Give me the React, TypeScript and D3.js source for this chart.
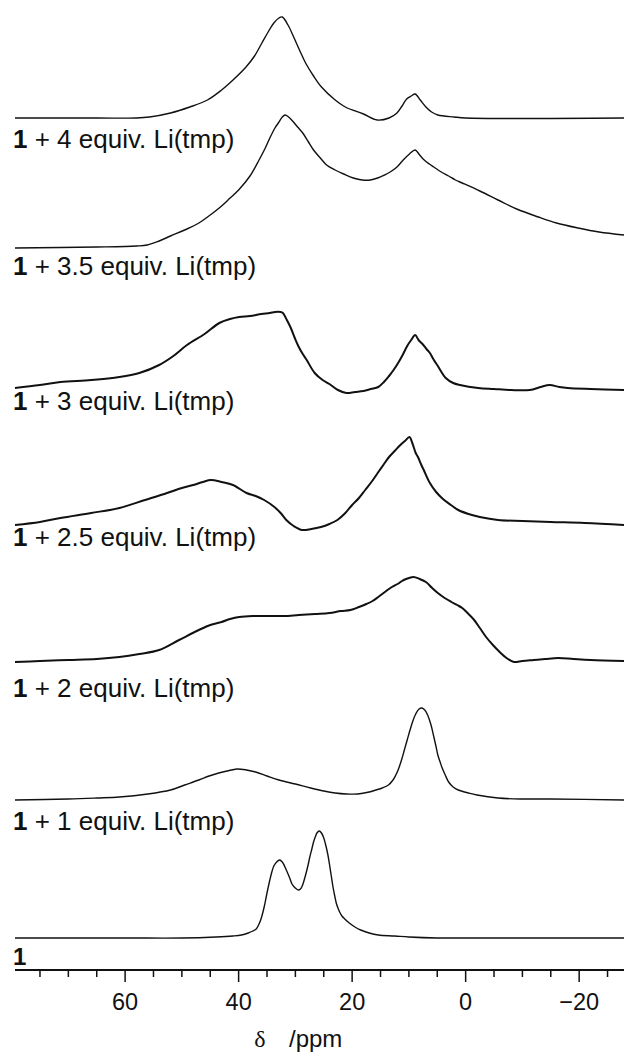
import React from "react";
import * as d3 from "d3";

// ---- data (ppm, intensity in arbitrary units) ----
const labels = ["4", "3.5", "3", "2.5", "2", "1", ""];
const stackOffsets = [820, 690, 550, 413, 276, 138, 0];

const spec4: [number, number][] = [[79.4,0],[65,0],[58,0],[55.7,1],[52,5],[48.6,11],[45.5,18],[43,28],[40.8,39],[38.7,51],[37.2,62],[35.9,75],[34.8,86],[33.8,95],[32.9,100],[32.3,101],[31.3,93],[30.3,81],[29.2,67],[28.2,55],[26.8,42],[25.4,31],[23.2,19],[21.2,11],[18,4],[15.6,-2],[13.5,0],[12.1,5],[11.2,12],[10.4,19],[9.6,22],[8.9,24],[8,18],[7,11],[6,6],[4.9,3],[2,1],[0,0],[-27.9,0]];
const spec35: [number, number][] = [[79.4,0],[65,1],[58,2],[56.1,3],[54,7],[52,12],[49.5,18],[47,25],[45,33],[43,42],[41.5,50],[40,58],[38,72],[36.4,88],[35.3,100],[34.5,110],[33.6,120],[33,125],[32.3,131],[31.8,133],[31.2,131],[30.5,127],[29.6,121],[28.7,115],[27.7,106],[26.8,98],[25.6,90],[24.5,83],[23,78],[21.5,74],[19.8,70],[18.2,68],[16.8,68],[15.5,70],[14.3,73],[13.3,76],[12.1,81],[11,88],[9.9,94],[8.9,98],[8.1,93],[7.3,88],[6.4,84],[5.6,81],[4.3,76],[3,72],[1.8,68],[0.6,65],[-2.5,57],[-5.7,48],[-9,39],[-12.8,31],[-16,25],[-19.8,20],[-23.5,16],[-27.9,13]];
const spec3: [number, number][] = [[79.4,0],[75,3],[71.4,6],[66,8],[61,11],[57.5,15],[54,23],[51.5,32],[49.1,43],[46,54],[43.4,65],[41.5,69],[39.9,71],[38,72],[36,74],[34.5,75],[33.6,76],[32.6,76],[32.2,75],[31.5,68],[30.8,60],[30.1,50],[29.4,41],[28.7,34],[28,28],[26.6,15],[25.2,8],[24,4],[22.5,-2],[21,-5],[19.5,-4],[18,-3],[16.7,-1],[15.4,1],[14.4,6],[13.5,12],[12.7,18],[11.9,25],[11.1,33],[10.3,42],[9.6,48],[8.9,53],[8.3,48],[7.6,44],[6.9,39],[6.3,35],[5.6,28],[4.9,22],[3.5,10],[2.2,5],[1,3],[-2.2,0],[-5,-1],[-8,-2],[-11.3,-2],[-13.2,1],[-14.8,3],[-16.5,1],[-18,0],[-22,-1],[-27.9,-2]];
const spec25: [number, number][] = [[79.4,0],[75,3],[71.4,7],[66,12],[61,17],[56.5,25],[52.6,32],[50,37],[48,40],[46.3,43],[44.9,45],[43,43],[41,40],[38.6,32],[37,29],[35.5,25],[33.7,18],[32.6,12],[31.6,5],[30.3,-1],[28.8,-5],[27.2,-4],[25.5,-2],[24,1],[22.6,5],[21.2,12],[20,20],[18.8,27],[17.7,35],[16.6,43],[15.5,52],[14.5,60],[13.5,68],[12.5,74],[11.5,80],[10.7,84],[9.9,88],[9.4,82],[8.8,72],[8.4,68],[7.8,60],[7.3,54],[6.3,42],[5.2,33],[4,26],[2.6,20],[1.3,15],[-0.5,11],[-2.5,8],[-5.7,5],[-10,4],[-15,3],[-21,2],[-27.9,0]];
const spec2: [number, number][] = [[79.4,0],[75,1],[70,2],[65,3],[61,5],[57.5,8],[54,12],[50.5,22],[47,32],[45,37],[43,40],[41.5,43],[39.9,45],[37.5,46],[35,46],[32,46],[29.4,47],[26.5,48],[24,49],[22,51],[20.3,52],[18.8,55],[17.5,58],[16.4,61],[15.4,65],[14,71],[13,75],[12,78],[11.2,81],[10.5,83],[9.2,85],[8.1,83],[7,80],[5.9,74],[4.9,69],[3.7,64],[2.5,60],[1.5,57],[0.6,54],[-0.5,48],[-1.5,42],[-2.5,34],[-3.6,25],[-4.8,17],[-6,10],[-7.2,4],[-8.5,0],[-10,1],[-12,2],[-14,3],[-16.3,4],[-19,3],[-22,2],[-27.9,1]];
const spec1: [number, number][] = [[79.4,0],[70,1],[65,2],[61,3],[56,6],[52,10],[49.5,15],[47,20],[45.2,24],[43.5,27],[42,29],[40.3,31],[38.6,30],[37,28],[35,24],[32.9,20],[30,16],[27.3,12],[25,9],[23,7],[21,6],[19,6],[17,8],[15.8,10],[14.7,12],[13.6,15],[12.8,20],[12.3,25],[11.9,30],[11.3,40],[10.8,50],[10.3,60],[9.8,70],[9.3,79],[8.8,86],[8.2,91],[7.7,92],[7.2,90],[6.7,85],[6.1,75],[5.6,63],[5.2,53],[4.9,45],[4.5,38],[4.2,33],[3.6,25],[3,18],[2.2,13],[1.3,10],[-0.5,7],[-2,5],[-5.7,2],[-10,1],[-15,1],[-27.9,0]];
const spec0: [number, number][] = [[79.4,0],[60,0],[50,0],[44,1],[41,2],[39.5,3],[38.3,5],[37.5,7],[36.9,9],[36.4,14],[36,20],[35.5,31],[35,45],[34.5,58],[34.1,67],[33.8,72],[33.3,76],[32.8,78],[32.3,76],[31.6,68],[31,60],[30.6,54],[30.2,51],[29.8,49],[29.5,48],[29.1,49],[28.8,52],[28.5,57],[28.2,63],[27.8,72],[27.5,80],[27.1,89],[26.8,96],[26.5,101],[26.2,105],[25.8,107],[25.4,105],[25,100],[24.7,94],[24.3,84],[24,74],[23.7,63],[23.4,52],[23.1,43],[22.8,35],[22.5,30],[22.2,26],[21.8,22],[21.3,19],[20.5,15],[19.5,11],[18.5,8],[17,5],[15.4,3],[12.5,2],[10,1],[5,0],[0,0],[-27.9,0]];
const spectra = [spec4, spec35, spec3, spec25, spec2, spec1, spec0];
const noisy = [false, false, true, true, true, false, false];

const tickValues = d3.range(75, -26, -5);
const xDomain: [number, number] = [79.4, -27.9];

export default function App() {
  const W = 624, H = 1057;
  const x = d3.scaleLinear().domain(xDomain).range([15, 624]);
  const y = d3.scaleLinear().domain([0, 938]).range([938, 0]);
  const axisY = 970;
  const font = "Arial, 'Liberation Sans', Helvetica, sans-serif";
  const labelBaselines = [148, 275, 410, 546, 697, 830, 965];

  return (
    <svg width={W} height={H} style={{ position: "absolute", left: 0, top: 0, background: "#fff" }}>
      <rect x={0} y={0} width={W} height={H} fill="#fff" />
      {spectra.map((s, i) => {
        const line = d3
          .line<[number, number]>()
          .x((d) => x(d[0]))
          .y((d) => y(d[1] + stackOffsets[i]))
          .curve(d3.curveCatmullRom.alpha(0.5));
        return (
          <path key={i} d={line(s) || ""} fill="none" stroke="#111" strokeWidth={noisy[i] ? 2 : 1.4} strokeLinejoin="round" />
        );
      })}
      {labels.map((l, i) => (
        <text key={"l" + i} x={13} y={labelBaselines[i]} fontFamily={font} fontSize={i === 6 ? 24 : 26} fill="#111">
          <tspan fontWeight="bold">1</tspan>
          {l ? <tspan>{` + ${l} equiv. Li(tmp)`}</tspan> : null}
        </text>
      ))}
      <line x1={15} x2={624} y1={axisY} y2={axisY} stroke="#111" strokeWidth={2} />
      {tickValues.map((t) => {
        const major = t % 20 === 0;
        return (
          <g key={"t" + t} transform={`translate(${x(t)},0)`}>
            <line y1={axisY} y2={axisY + (major ? 12 : 7)} stroke="#111" strokeWidth={1.5} />
            {major ? (
              <text y={1010} textAnchor="middle" fontFamily={font} fontSize={23.5} fill="#111">
                {t < 0 ? "\u2212" + Math.abs(t) : String(t)}
              </text>
            ) : null}
          </g>
        );
      })}
      <text x={260} y={1047} textAnchor="middle" fontFamily="'Times New Roman', 'Liberation Serif', serif" fontSize={24} fill="#111">δ</text>
      <text x={289} y={1047} fontFamily={font} fontSize={24} fill="#111">/ppm</text>
    </svg>
  );
}
